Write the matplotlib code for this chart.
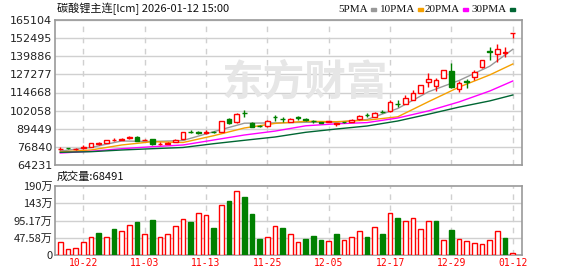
import numpy as np
import pandas as pd
import matplotlib
matplotlib.use('Agg')
import matplotlib.pyplot as plt
from matplotlib.patches import Rectangle

# ── 数据 ──
days = pd.bdate_range('2025-10-17', '2026-01-12')
days = days[~days.isin(pd.to_datetime(['2026-01-01', '2026-01-02']))]
day_labels = [d.strftime('%m-%d') for d in days]
tick_labels = ['10-22', '11-03', '11-13', '11-25', '12-05', '12-17', '12-29', '01-12']

open_ = [75225, 75921, 75155, 76060, 76964, 78842, 79538, 81416, 81833, 83016,
         83503, 81486, 81973, 78703, 79051, 80234, 82320, 87329, 86843, 86773,
         87121, 87399, 95886, 93938, 100408, 93660, 91503, 91364, 97625, 96442,
         94147, 97277, 96095, 94982, 93799, 94286, 92895, 94077, 94356, 96025,
         99156, 97834, 101243, 101591, 106808, 106460, 109451, 114113, 122182, 118982,
         124547, 129625, 116895, 122321, 125243, 132617, 143191, 141452, 141939, 155713]
high = [76756, 76060, 76060, 77938, 79538, 80025, 81625, 83016, 83155, 84616,
        84199, 81973, 82529, 79886, 80025, 82112, 87399, 88373, 87538, 88373,
        87677, 94843, 96721, 100199, 102495, 94147, 92060, 95538, 99016, 97834,
        96581, 98321, 97138, 95538, 94008, 94843, 93660, 94147, 96025, 98669,
        100617, 100895, 102148, 109451, 109243, 112930, 116408, 119887, 128025, 124547,
        130321, 134982, 122878, 124060, 130321, 137278, 146113, 148200, 146113, 155852]
low = [74668, 75573, 74668, 75573, 76756, 77799, 79329, 80929, 81277, 82112,
       80929, 81416, 78147, 78147, 78634, 79886, 82112, 86286, 85799, 85590,
       86495, 87399, 92756, 93660, 97834, 90321, 90321, 90460, 95051, 94356,
       93938, 95538, 94843, 93243, 93243, 93938, 91364, 93451, 94147, 95747,
       97416, 97416, 100199, 101313, 104582, 106321, 109243, 113973, 118704, 115921,
       124408, 117591, 115226, 117591, 123364, 131921, 137278, 136095, 139156, 152373]
close = [75503, 75712, 75364, 76964, 79329, 79190, 81416, 81764, 82181, 83364,
         81138, 81694, 78634, 78981, 79329, 81625, 87190, 86982, 86564, 87121,
         86843, 94843, 93451, 99503, 100060, 90877, 91225, 94634, 97277, 96095,
         96234, 96929, 95747, 94634, 93521, 94564, 93243, 93799, 95747, 98321,
         98808, 100617, 100965, 108269, 106530, 110634, 114113, 119678, 123712, 123156,
         130112, 118704, 121487, 121974, 129138, 137069, 142843, 144721, 142634, 155852]

# 成交量（万）
volume = [35.9, 15.6, 18.4, 35.9, 48.7, 61.6, 48.7, 71.7, 66.2, 82.7,
          91.0, 57.9, 96.5, 48.7, 57.9, 80.0, 98.3, 91.0, 114.9, 110.3,
          74.4, 137.9, 149.8, 175.5, 160.8, 114.0, 44.1, 48.7, 80.0, 74.4,
          57.9, 35.0, 45.0, 52.0, 40.0, 38.0, 58.0, 42.0, 50.0, 66.0,
          50.0, 78.0, 57.9, 114.9, 102.0, 92.8, 101.1, 70.8, 92.8, 93.7,
          41.4, 68.9, 43.2, 38.6, 32.2, 29.4, 41.4, 66.2, 46.9, 6.8491]
vol_up = [1, 1, 1, 1, 1, 0, 1, 0, 1, 1,
          0, 1, 0, 1, 1, 1, 1, 0, 1, 1,
          0, 1, 0, 1, 0, 0, 0, 1, 1, 0,
          1, 1, 0, 0, 0, 1, 0, 1, 1, 1,
          0, 1, 0, 1, 0, 1, 1, 1, 1, 0,
          1, 0, 1, 1, 1, 1, 1, 1, 0, 1]
last_volume = 68491

# 均线（读图取样）
ma_idx = [0, 4, 8, 12, 16, 20, 24, 28, 32, 36, 40, 44, 48, 52, 56, 59]
ma5 = [73973, 76411, 80929, 80582, 81277, 87399, 93312, 93521, 93938, 94008, 95886, 103538, 115156, 123017, 132965, 144721]
ma10 = [73277, 74668, 78147, 80442, 79886, 84616, 89973, 93173, 94634, 94356, 95399, 97764, 108269, 118426, 126912, 134495]
ma20 = [72581, 73764, 75573, 76964, 78147, 81625, 85103, 87817, 91503, 92895, 93730, 96929, 101869, 108129, 115712, 122669]
ma30 = [73068, 73486, 74668, 75573, 76411, 79051, 81416, 83712, 86982, 89277, 91364, 94843, 99573, 104512, 108825, 112930]

price_lo, price_hi = 64231, 165104
vol_ticks = [0, 47.58, 95.17, 142.75, 190.34]
vol_tick_labels = ['0', '47.58万', '95.17万', '143万', '190万']

RED = '#ff0000'
GREEN = '#008000'
GRID = '#d0d0d0'
SPINE = '#999999'
ma_colors = ['#999999', '#f5a000', '#ff00ff', '#006633']
ma_names = ['5PMA', '10PMA', '20PMA', '30PMA']

CN = ['Noto Sans CJK SC', 'DejaVu Sans']

W, H = 578, 276
fig = plt.figure(figsize=(W / 100, H / 100), dpi=100, facecolor='white')
ax = fig.add_axes([55 / W, 1 - 165 / H, 467 / W, 145 / H])
axv = fig.add_axes([55 / W, 1 - 255 / H, 467 / W, 69 / H])

x = np.arange(len(close))
o = np.array(open_); c = np.array(close)
up = c >= o
cols = [RED if u else GREEN for u in up]
tick_pos = [day_labels.index(t) for t in tick_labels]

for a in (ax, axv):
    a.set_xlim(-0.69, 60.2)
    for s in a.spines.values():
        s.set_color(SPINE); s.set_linewidth(1.2)
    a.tick_params(length=0, labelsize=8, pad=2, colors='#222222')
    a.set_xticks(tick_pos)
    for tp in tick_pos:
        a.axvline(tp, color=GRID, lw=1, ls=(0, (4, 4)), zorder=0)

# ── K线 ──
ax.set_ylim(price_lo, price_hi)
yt = np.linspace(price_lo, price_hi, 9)
ax.set_yticks(yt)
ax.set_yticklabels([f'{round(v)}' for v in yt])
for v in yt:
    ax.axhline(v, color=GRID, lw=1, zorder=0)
ax.set_xticklabels([])

# 水印
ax.text(0.535, 0.57, '东方财富', transform=ax.transAxes, ha='center', va='center',
        fontsize=30, fontweight='bold', color='#e6e6e6', family=CN, zorder=0.5)

ax.vlines(x, low, high, colors=cols, lw=1, zorder=2)
ax.bar(x, np.abs(c - o), bottom=np.minimum(o, c), width=0.6,
       facecolor=['white' if u else GREEN for u in up], edgecolor=cols, lw=1, zorder=3)

for vals, col in zip([ma5, ma10, ma20, ma30], ma_colors):
    ax.plot(ma_idx, vals, color=col, lw=1, zorder=1.5)

# ── 成交量 ──
axv.set_ylim(0, vol_ticks[-1])
axv.set_yticks(vol_ticks)
axv.set_yticklabels(vol_tick_labels, family=CN)
for v in vol_ticks[1:-1]:
    axv.axhline(v, color=GRID, lw=1, zorder=0)
vcols = [RED if u else GREEN for u in vol_up]
axv.bar(x, volume, width=0.6, facecolor=['white' if u else GREEN for u in vol_up],
        edgecolor=vcols, lw=1, zorder=3)
axv.set_xticklabels(tick_labels, family='DejaVu Sans Mono', fontsize=7, color=RED)

# ── 标题与图例 ──
fig.text(57 / W, 1 - 9 / H, '碳酸锂主连[lcm] 2026-01-12 15:00', family=CN,
         fontsize=8, va='center', ha='left', color='#111111')
fig.text(57 / W, 1 - 177 / H, f'成交量:{last_volume}', family=CN,
         fontsize=8, va='center', ha='left', color='#111111')

leg_x = [338, 380, 425, 472]
for lx, name, col in zip(leg_x, ma_names, ma_colors):
    t = fig.text(lx / W, 1 - 9 / H, name, family='Liberation Serif', fontsize=8,
                 va='center', ha='left', color='#111111')
    fig.canvas.draw()
    bb = t.get_window_extent()
    fig.patches.append(Rectangle(((bb.x1 + 3) / W, 1 - 11 / H), 5 / W, 3 / H,
                                 transform=fig.transFigure, color=col))

fig.savefig('out.png', dpi=100, facecolor='white')
